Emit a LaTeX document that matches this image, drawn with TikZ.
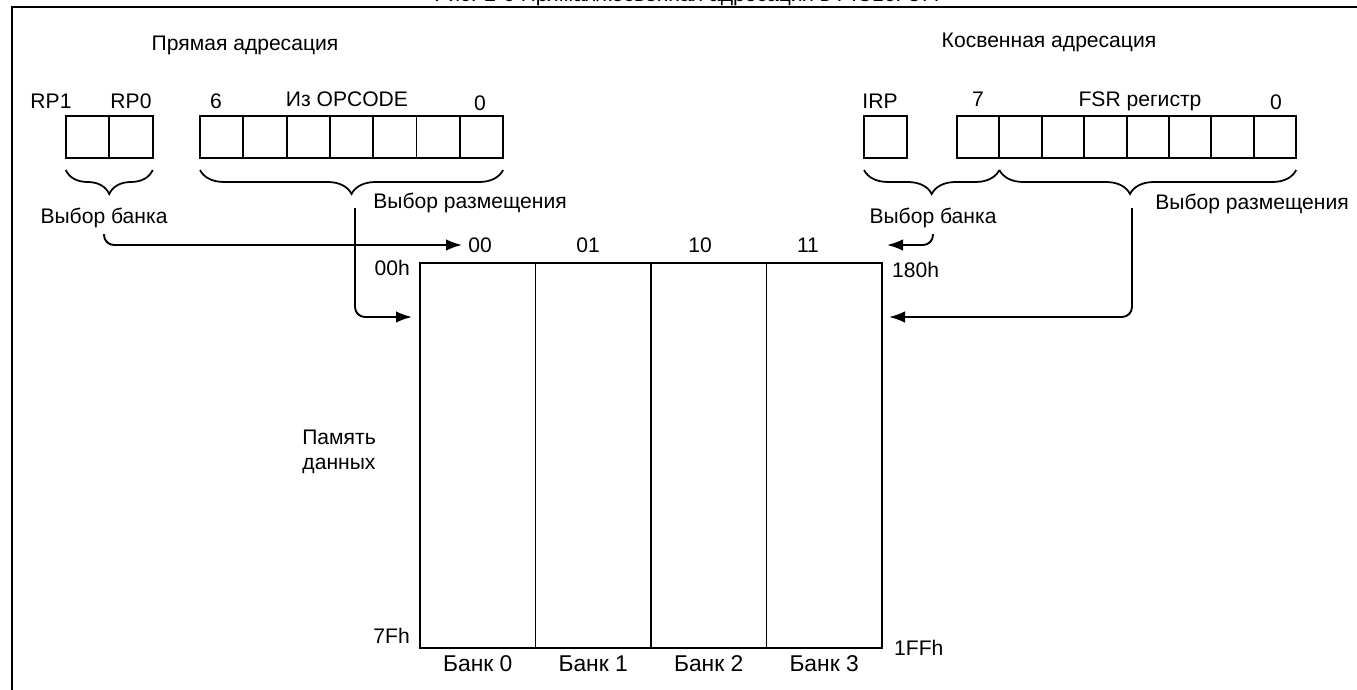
\documentclass[tikz,border=0pt]{standalone}
\usepackage{fontspec}
\setmainfont{Liberation Sans}
\usetikzlibrary{
    arrows.meta,
    positioning,
    decorations.pathreplacing
}

\begin{document}
\begin{tikzpicture}[
    x=0.02cm,
    y=-0.02cm,
    >={Latex[length=3.2mm,width=2.3mm]},
    font=\fontsize{12}{14}\selectfont,
    cell/.style={
        draw,
        line width=1.1pt,
        inner sep=0pt,
        outer sep=0pt,
        minimum height=0.84cm
    },
    bank/.style={
        draw,
        line width=0.9pt,
        inner sep=0pt,
        outer sep=0pt,
        minimum width=2.31cm,
        minimum height=7.7cm
    },
    banklbl/.style={
        font=\fontsize{13}{15}\selectfont
    },
    brace/.style={
        decorate,
        decoration={brace,mirror,amplitude=0.48cm},
        line width=1pt
    },
    link/.style={
        ->,
        line width=1.1pt,
        rounded corners=0.2cm
    }
]

\useasboundingbox (0,0) rectangle (1357,690);

%--------------------------------------------------
% frame and caption
\draw[line width=1.6pt] (12,690) |- (1357,7);
\node[anchor=base] (caption) at (689,1)
{Рис. 2-6 Прямая/косвенная адресация в PIC16F877};

\node (direct) at (245,45) {Прямая адресация};
\node (indirect) at (1049,42) {Косвенная адресация};

%--------------------------------------------------
% registers
\node[cell,minimum width=0.87cm] (rp1) at (87.5,137) {};
\node[cell,minimum width=0.87cm,right=0pt of rp1] (rp0) {};
\foreach \i in {1,...,7}
    \node[cell,minimum width=0.866cm] (op\i) at ({200+43.3*(\i-0.5)},137) {};

\node[cell,minimum width=0.86cm] (irp) at (885.5,137) {};
\foreach \i in {1,...,8}
    \node[cell,minimum width=0.848cm] (fsr\i) at ({957+42.4*(\i-0.5)},137) {};

% bit labels
\node (rp1lbl) at (51,101) {RP1};
\node (rp0lbl) at (131,101) {RP0};
\node (op6lbl) at (216,101) {6};
\node (oplbl) at (347,99) {Из OPCODE};
\node (op0lbl) at (480,103) {0};

\node (irplbl) at (880,101) {IRP};
\node (fsr7lbl) at (978,99) {7};
\node (fsrlbl) at (1140,101) {FSR регистр};
\node (fsr0lbl) at (1276,102) {0};

% braces
\draw[brace] ([yshift=-0.24cm]rp1.south west) -- ([yshift=-0.24cm]rp0.south east);
\draw[brace] ([yshift=-0.24cm]op1.south west) -- ([yshift=-0.24cm]op7.south east);
\draw[brace] ([yshift=-0.24cm]irp.south west) -- ([yshift=-0.24cm]fsr1.south east);
\draw[brace,decoration={aspect=0.44}]
    ([yshift=-0.24cm]fsr1.south east) -- ([yshift=-0.24cm]fsr8.south east);

\node (bankselL) at (104,218) {Выбор банка};
\node (locselL) at (470,203) {Выбор размещения};
\node (bankselR) at (933,218) {Выбор банка};
\node (locselR) at (1252,204) {Выбор размещения};

%--------------------------------------------------
% data memory
\node[bank,anchor=north west] (bank0) at (420,263) {};
\node[bank,right=0pt of bank0] (bank1) {};
\node[bank,right=0pt of bank1] (bank2) {};
\node[bank,right=0pt of bank2] (bank3) {};
\draw[line width=1.6pt] (bank0.north west) -- (bank0.south west);
\draw[line width=1.3pt] (bank2.north west) -- (bank2.south west);

\node[banklbl,below=1pt of bank0] (bank0lbl) {Банк 0};
\node[banklbl,below=1pt of bank1] (bank1lbl) {Банк 1};
\node[banklbl,below=1pt of bank2] (bank2lbl) {Банк 2};
\node[banklbl,below=1pt of bank3] (bank3lbl) {Банк 3};

\node (col00) at (480,245) {00};
\node (col01) at (588,245) {01};
\node (col10) at (700,245) {10};
\node (col11) at (808,245) {11};

\node[anchor=east] (addr00) at (416,268) {00h};
\node[anchor=east] (addr7f) at (416,636) {7Fh};
\node[anchor=west] (addr180) at (886,270) {180h};
\node[anchor=west] (addr1ff) at (888,648) {1FFh};

\node[align=center] (memlbl) at (339,452) {Память\\данных};

%--------------------------------------------------
% connectors
\coordinate (locL) at (355,208);
\coordinate (locinL) at (412,317);
\coordinate (locR) at (1132,208);
\coordinate (locinR) at (889,317);
\coordinate (bankinR) at (887,245);

\draw[link] (bankselL.south) |- (col00.west);
\draw[link] (locL) |- (locinL);
\draw[link] (bankselR.south) |- (bankinR);
\draw[link] (locR) |- (locinR);

\end{tikzpicture}
\end{document}
